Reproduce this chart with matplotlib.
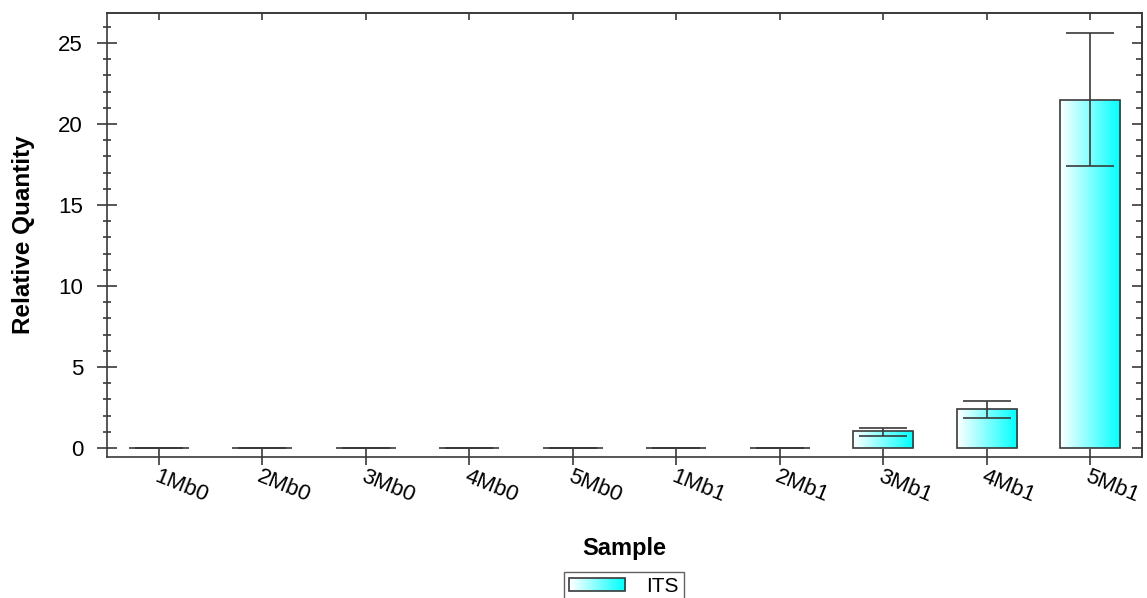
import numpy as np
import matplotlib
matplotlib.use('Agg')
import matplotlib.pyplot as plt
from matplotlib.patches import Rectangle
from matplotlib.legend_handler import HandlerBase
from matplotlib.colors import LinearSegmentedColormap
from matplotlib.ticker import MultipleLocator

plt.rcParams['font.family'] = ['Liberation Sans', 'DejaVu Sans']

samples = ['1Mb0', '2Mb0', '3Mb0', '4Mb0', '5Mb0', '1Mb1', '2Mb1', '3Mb1', '4Mb1', '5Mb1']
rq = [0, 0, 0, 0, 0, 0, 0, 1.05, 2.39, 21.5]
err_lo = [0, 0, 0, 0, 0, 0, 0, 0.29, 0.54, 4.08]
err_hi = [0, 0, 0, 0, 0, 0, 0, 0.19, 0.53, 4.12]
series_name = 'ITS'

linec = '#3a3a3a'
grad = LinearSegmentedColormap.from_list('wc', ['#ffffff', '#00ffff'])

fig = plt.figure(figsize=(11.47, 5.98), dpi=100)
ax = fig.add_axes([107 / 1147, 1 - 457 / 598, (1142 - 107) / 1147, (457 - 13) / 598])

x = np.arange(len(samples))
bw = 0.58
bars = ax.bar(x, rq, width=bw, facecolor='none', edgecolor=linec, linewidth=1.2, zorder=3)

# white -> cyan gradient inside every bar
g = np.linspace(0, 1, 256).reshape(1, -1)
for b, h in zip(bars, rq):
    if h <= 0:
        continue
    x0 = b.get_x()
    im = ax.imshow(g, cmap=grad, aspect='auto', extent=[x0, x0 + bw, 0, h],
                   origin='lower', zorder=2, interpolation='bilinear')
    im.set_clip_path(b)

ax.errorbar(x, rq, yerr=[err_lo, err_hi], fmt='none', ecolor=linec,
            elinewidth=1.2, capsize=17, capthick=1.2, zorder=4)

ax.set_xlim(-0.5, 9.5)
ax.set_ylim(-0.56, 26.85)

ax.set_xticks(x)
ax.set_xticklabels(samples, rotation=-22, ha='left', va='top', rotation_mode='anchor', fontsize=16)
ax.tick_params(axis='x', which='major', direction='inout', length=11.5, width=1.2, color=linec, pad=1)
ax.yaxis.set_major_locator(MultipleLocator(5))
ax.yaxis.set_minor_locator(MultipleLocator(1))
ax.tick_params(axis='y', which='major', direction='inout', length=14.4, width=1.2, color=linec,
               labelsize=16, pad=10)
ax.tick_params(axis='y', which='minor', direction='inout', length=6, width=1.2, color=linec)

# top and right ticks point inward only
top = ax.secondary_xaxis('top')
top.set_xticks(x)
top.tick_params(axis='x', direction='in', length=5, width=1.2, color=linec, labeltop=False)
right = ax.secondary_yaxis('right')
right.yaxis.set_major_locator(MultipleLocator(5))
right.yaxis.set_minor_locator(MultipleLocator(1))
right.tick_params(axis='y', which='major', direction='in', length=7, width=1.2, color=linec, labelright=False)
right.tick_params(axis='y', which='minor', direction='in', length=4.3, width=1.2, color=linec)
for a in (ax, top, right):
    for s in a.spines.values():
        s.set_color(linec)
        s.set_linewidth(1.2)

ax.set_ylabel('Relative Quantity', fontsize=17.5, fontweight='bold', labelpad=17)
ax.set_xlabel('Sample', fontsize=17, fontweight='bold', labelpad=22)


class GradHandler(HandlerBase):
    def create_artists(self, legend, orig, xd, yd, w, h, fs, trans):
        out = []
        n = 30
        for i in range(n):
            out.append(Rectangle((-xd + w * i / n, -yd), w / n + 0.3, h,
                                 facecolor=grad(i / (n - 1)), edgecolor='none', transform=trans))
        out.append(Rectangle((-xd, -yd), w, h, facecolor='none', edgecolor=linec,
                             linewidth=1.2, transform=trans))
        return out


proxy = Rectangle((0, 0), 1, 1)
leg = fig.legend([proxy], [series_name], handler_map={Rectangle: GradHandler()},
                 loc='upper center', bbox_to_anchor=(624 / 1147, 1 - 572 / 598),
                 borderaxespad=0, fontsize=15, frameon=True, fancybox=False,
                 handlelength=2.7, handleheight=0.6, borderpad=0.25, handletextpad=1.0)
leg.get_frame().set_edgecolor(linec)
leg.get_frame().set_linewidth(1.0)

fig.savefig('out.png', dpi=100)
